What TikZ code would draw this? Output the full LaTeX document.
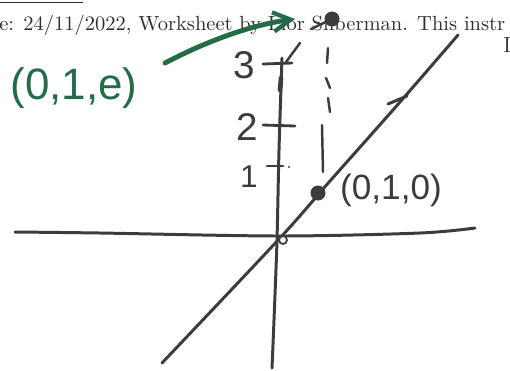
\documentclass[tikz,border=0pt]{standalone}
\usepackage{fontspec}
\usepackage{graphicx}
\newfontfamily\hand{Liberation Sans}
\usetikzlibrary{arrows.meta}
\definecolor{pen}{HTML}{3C3C3C}
\definecolor{inkgreen}{HTML}{246B48}
\definecolor{print}{HTML}{2E2E2E}
\begin{document}
\begin{tikzpicture}[x=0.02cm,y=-0.02cm,
  stroke/.style={draw=pen,line width=1.7pt,line cap=round,line join=round},
  tickmark/.style={draw=pen,line width=1.6pt,line cap=round},
  dashseg/.style={draw=pen,line width=1.4pt,line cap=round},
  handlabel/.style={text=pen,inner sep=0,font=\hand\fontsize{22}{24}\selectfont},
  bigdot/.style={circle,fill=pen,inner sep=0}]
\useasboundingbox (0,0) rectangle (510,370);
% printed header
\draw[print,line width=0.5pt] (0,2) -- (83,2);
\node[anchor=base west,inner sep=0,text=print] (hdr) at (-1,30)
  {\resizebox{10.12cm}{!}{e: 24/11/2022, Worksheet by Lior Silberman. This instr}};
\node[anchor=base west,inner sep=0,text=print] (pg) at (503,52)
  {\fontsize{12.4}{14}\selectfont I};
% axes
\draw[stroke] plot[smooth] coordinates {(15,232) (100,233) (280,236) (420,233) (475,228)};
\draw[stroke] plot[smooth] coordinates {(282,58) (279,150) (277,240) (274,320) (272,368)};
\draw[stroke,line width=2.6pt] (281,78) -- (280,90);
% ticks
\draw[tickmark] (263,64) -- (292,63);
\draw[tickmark] (263,125) -- (295,126);
\draw[tickmark] (267,166) -- (283,166);
\fill[pen] (289,167) circle (1.2);
\node[handlabel] (t3) at (244,65) {3};
\node[handlabel] (t2) at (247,127) {2};
\node[handlabel,font=\hand\fontsize{18}{20}\selectfont] (t1) at (249,177) {1};
% main line
\draw[stroke] plot[smooth,tension=0.5] coordinates {(162,363) (280,238) (330,181) (400,102) (458,35)};
\draw[stroke] (388,104) -- (407,96);
% points
\node[circle,draw=pen,fill=white,line width=1pt,inner sep=0,minimum size=0.16cm] (O) at (283,240) {};
\node[bigdot,minimum size=0.3cm] (P) at (318,193) {};
\node[bigdot,minimum size=0.3cm] (Q) at (332,19) {};
\node[handlabel,font=\hand\fontsize{20}{22}\selectfont] (Plab) at (391,190) {(0,1,0)};
% dashed guides
\draw[dashseg] (323,172) -- (322,125);
\draw[dashseg] (328,98) -- (330,112);
\draw[dashseg] (326,78) -- (330,88);
\draw[dashseg] (328,48) -- (327,63);
\draw[dashseg] (286,62) -- (300,43);
\draw[dashseg] (311,29) -- (Q);
% green annotation
\draw[inkgreen,line width=2.8pt,line cap=round,
  -{Straight Barb[length=10pt,width=11pt,line width=2.4pt]}]
  (165,63) .. controls (205,42) and (250,25) .. (295,19);
\node[text=inkgreen,inner sep=0,font=\hand\fontsize{25}{28}\selectfont] (Qlab) at (74,88) {(0,1,e)};
\end{tikzpicture}
\end{document}
